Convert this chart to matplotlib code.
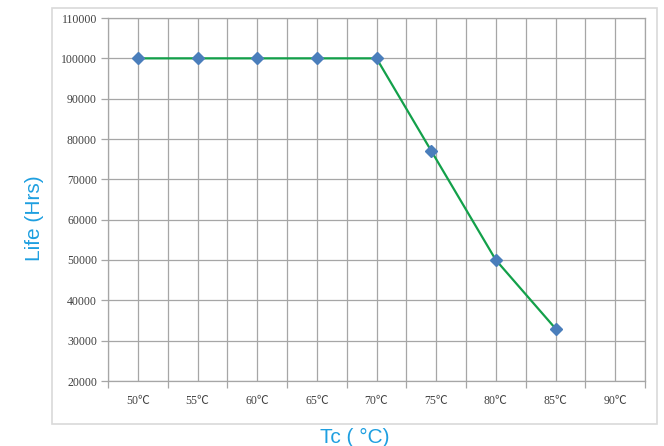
import matplotlib
matplotlib.use("Agg")
import matplotlib.pyplot as plt
from matplotlib.patches import Rectangle
import numpy as np

# readings from the chart
temps = [50, 55, 60, 65, 70, 74.6, 80, 85]
life = [100000, 100000, 100000, 100000, 100000, 77000, 50000, 33000]
cat_labels = ["50℃", "55℃", "60℃", "65℃", "70℃", "75℃", "80℃", "85℃", "90℃"]
cat_centers = [50, 55, 60, 65, 70, 75, 80, 85, 90]
y_ticks = [20000, 30000, 40000, 50000, 60000, 70000, 80000, 90000, 100000, 110000]

blue = "#1E9FE0"
grid_c = "#A6A6A6"
tick_font = ["Liberation Serif", "Noto Sans CJK SC", "DejaVu Sans"]

fig = plt.figure(figsize=(6.64, 4.46), dpi=100)
fig.patches.append(Rectangle((52 / 664, 22 / 446), 605 / 664, 416 / 446,
                             transform=fig.transFigure, fill=False,
                             edgecolor="#D9D9D9", linewidth=1.2))
ax = fig.add_axes([108 / 664, 65 / 446, 537 / 664, 363 / 446])

ax.set_xlim(47.5, 92.5)
ax.set_ylim(20000, 110000)

# vertical grid on category centres and boundaries
for xv in np.arange(47.5, 92.6, 2.5):
    ax.axvline(xv, color=grid_c, lw=0.9, zorder=1)
for yv in y_ticks:
    ax.axhline(yv, color=grid_c, lw=0.9, zorder=1)

ax.plot(temps, life, color="#13A04A", lw=1.6, zorder=3)
ax.plot(temps, life, ls="none", marker="D", ms=6.5, color="#4A7EBB",
        markeredgecolor="#4A7EBB", zorder=4)

ax.set_yticks(y_ticks)
ax.set_yticklabels([str(v) for v in y_ticks], family=tick_font, fontsize=8.5,
                   color="#404040")
ax.tick_params(axis="y", length=5, width=0.9, color=grid_c, pad=3)

ax.set_xticks(np.arange(47.5, 92.6, 5))
ax.set_xticklabels([])
ax.set_xticks(cat_centers, minor=True)
ax.set_xticklabels(cat_labels, minor=True, family=tick_font, fontsize=8.5,
                   color="#404040")
ax.tick_params(axis="x", which="major", length=5, width=0.9, color=grid_c)
ax.tick_params(axis="x", which="minor", length=0, pad=10)

for s in ax.spines.values():
    s.set_color(grid_c)
    s.set_linewidth(0.9)

fig.text(35 / 664, 1 - 218 / 446, "Life (Hrs)", rotation=90, color=blue,
         fontsize=15, family="Liberation Sans", ha="center", va="center")
fig.text(355 / 664, 1 - 437 / 446, "Tc ( °C)", color=blue,
         fontsize=15, family="Liberation Sans", ha="center", va="center")

plt.savefig("out.png", dpi=100)
